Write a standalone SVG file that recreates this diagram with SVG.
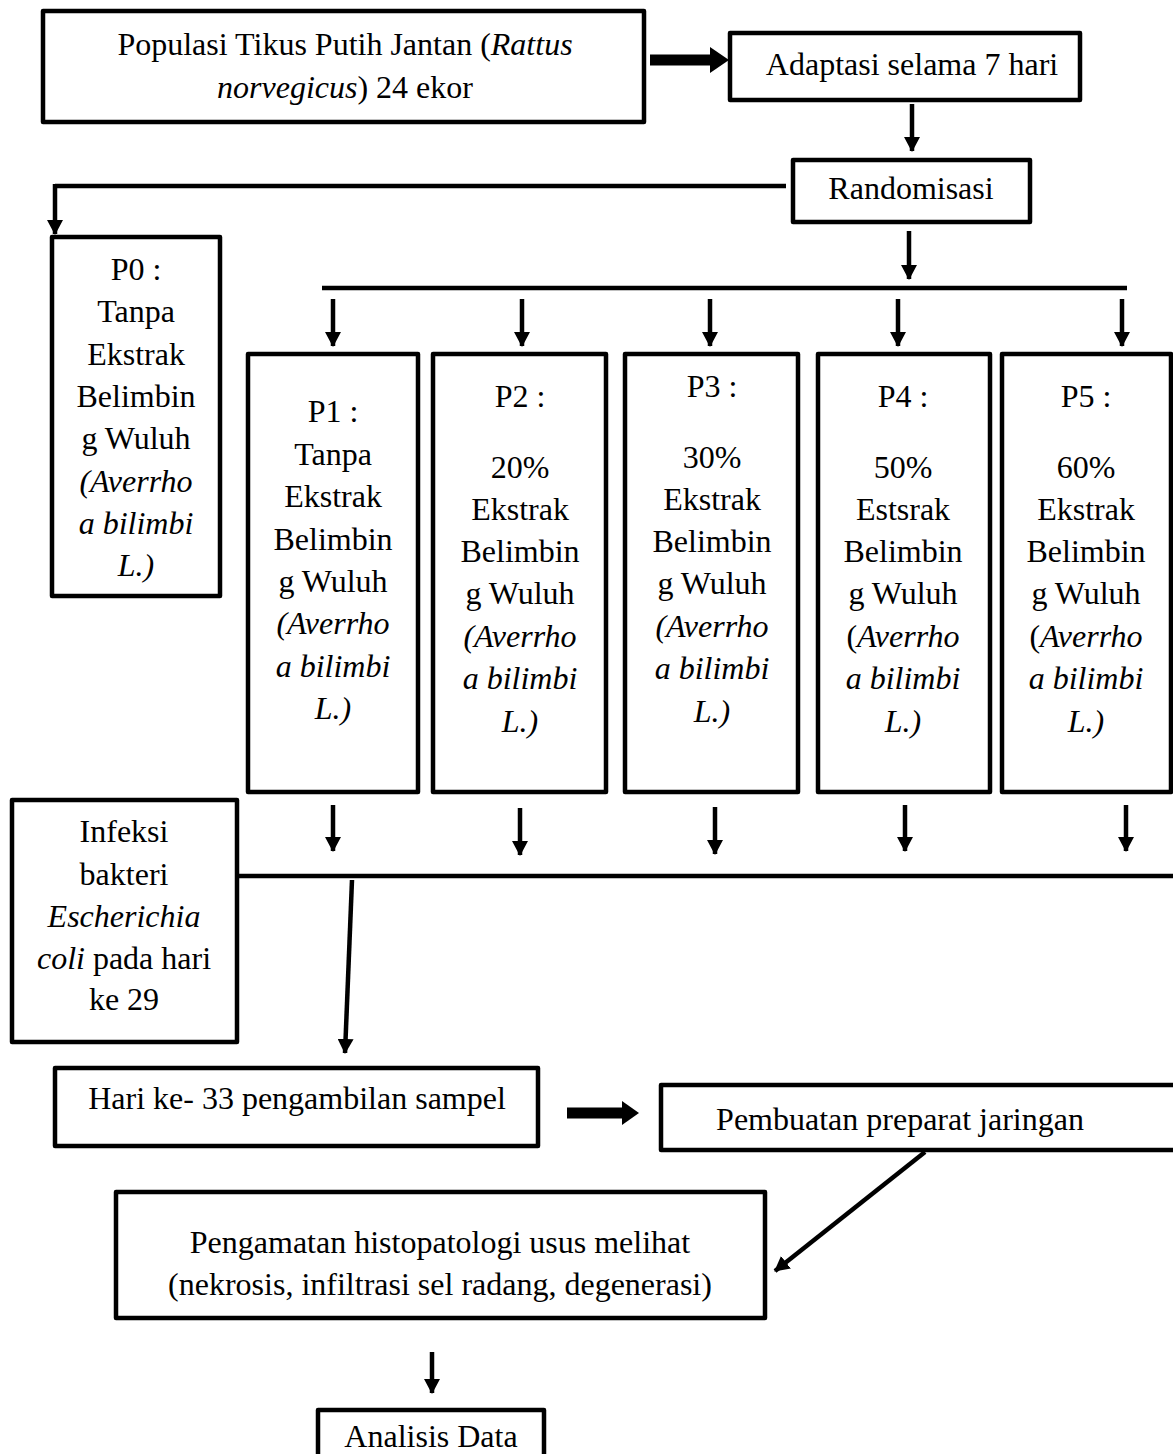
<svg xmlns="http://www.w3.org/2000/svg" width="1173" height="1454" viewBox="0 0 1173 1454">
<style>
.box{fill:#fff;stroke:#000;stroke-width:4.5;stroke-linejoin:round}
.t{font-family:"Liberation Serif","Times New Roman",serif;font-size:32px;fill:#000;text-anchor:middle}
.i{font-style:italic}
.ln{fill:none;stroke:#000;stroke-width:4.5}
.ar{fill:none;stroke:#000;stroke-width:4.5;marker-end:url(#ah)}
</style>
<defs>
<marker id="ah" markerUnits="userSpaceOnUse" markerWidth="16" markerHeight="16" refX="14" refY="8" orient="auto">
<path d="M0,0 L15,8 L0,16 Z" fill="#000"/>
</marker>
</defs>
<rect width="1173" height="1454" fill="#fff"/>

<g id="connectors">
<path d="M650,60 H712" stroke="#000" stroke-width="11" fill="none"/>
<path d="M710,47 L729,60 L710,73 Z" fill="#000"/>
<path class="ar" d="M912,104 V151"/>
<path class="ln" d="M786,186 H55"/>
<path class="ar" d="M55,184 V234"/>
<path class="ar" d="M909,231 V279"/>
<path class="ln" d="M322,288 H1127"/>
<path class="ar" d="M333,299 V346"/>
<path class="ar" d="M522,299 V346"/>
<path class="ar" d="M710,299 V346"/>
<path class="ar" d="M898,299 V346"/>
<path class="ar" d="M1122,299 V346"/>
<path class="ar" d="M333,805 V851"/>
<path class="ar" d="M520,808 V855"/>
<path class="ar" d="M715,807 V854"/>
<path class="ar" d="M905,805 V851"/>
<path class="ar" d="M1126,805 V851"/>
<path class="ln" d="M237,876 H1173"/>
<path class="ar" d="M352,880 L345,1053"/>
<path d="M567,1113 H625" stroke="#000" stroke-width="11" fill="none"/>
<path d="M622,1101 L639,1113 L622,1125 Z" fill="#000"/>
<path class="ar" d="M925,1152 L775,1271"/>
<path class="ar" d="M432,1352 V1393"/>
</g>

<g id="n-populasi">
<rect class="box" x="43" y="11" width="601" height="111"/>
<text class="t" x="345" y="55">Populasi Tikus Putih Jantan (<tspan class="i">Rattus</tspan></text>
<text class="t" x="345" y="98"><tspan class="i">norvegicus</tspan>) 24 ekor</text>
</g>

<g id="n-adaptasi">
<rect class="box" x="730" y="33" width="350" height="67"/>
<text class="t" x="912" y="75">Adaptasi selama 7 hari</text>
</g>

<g id="n-random">
<rect class="box" x="793" y="160" width="237" height="62"/>
<text class="t" x="911" y="199">Randomisasi</text>
</g>

<g id="n-p0">
<rect class="box" x="52" y="237" width="168" height="359"/>
<text class="t" x="136" y="280">P0 :</text>
<text class="t" x="136" y="322">Tanpa</text>
<text class="t" x="136" y="365">Ekstrak</text>
<text class="t" x="136" y="407">Belimbin</text>
<text class="t" x="136" y="449">g Wuluh</text>
<text class="t i" x="136" y="492">(Averrho</text>
<text class="t i" x="136" y="534">a bilimbi</text>
<text class="t i" x="136" y="576">L.)</text>
</g>

<g id="n-p1">
<rect class="box" x="248" y="354" width="170" height="438"/>
<text class="t" x="333" y="422">P1 :</text>
<text class="t" x="333" y="465">Tanpa</text>
<text class="t" x="333" y="507">Ekstrak</text>
<text class="t" x="333" y="550">Belimbin</text>
<text class="t" x="333" y="592">g Wuluh</text>
<text class="t i" x="333" y="634">(Averrho</text>
<text class="t i" x="333" y="677">a bilimbi</text>
<text class="t i" x="333" y="719">L.)</text>
</g>

<g id="n-p2">
<rect class="box" x="433" y="354" width="173" height="438"/>
<text class="t" x="520" y="407">P2 :</text>
<text class="t" x="520" y="478">20%</text>
<text class="t" x="520" y="520">Ekstrak</text>
<text class="t" x="520" y="562">Belimbin</text>
<text class="t" x="520" y="604">g Wuluh</text>
<text class="t i" x="520" y="647">(Averrho</text>
<text class="t i" x="520" y="689">a bilimbi</text>
<text class="t i" x="520" y="732">L.)</text>
</g>

<g id="n-p3">
<rect class="box" x="625" y="354" width="173" height="438"/>
<text class="t" x="712" y="397">P3 :</text>
<text class="t" x="712" y="468">30%</text>
<text class="t" x="712" y="510">Ekstrak</text>
<text class="t" x="712" y="552">Belimbin</text>
<text class="t" x="712" y="594">g Wuluh</text>
<text class="t i" x="712" y="637">(Averrho</text>
<text class="t i" x="712" y="679">a bilimbi</text>
<text class="t i" x="712" y="722">L.)</text>
</g>

<g id="n-p4">
<rect class="box" x="818" y="354" width="172" height="438"/>
<text class="t" x="903" y="407">P4 :</text>
<text class="t" x="903" y="478">50%</text>
<text class="t" x="903" y="520">Estsrak</text>
<text class="t" x="903" y="562">Belimbin</text>
<text class="t" x="903" y="604">g Wuluh</text>
<text class="t" x="903" y="647">(<tspan class="i">Averrho</tspan></text>
<text class="t i" x="903" y="689">a bilimbi</text>
<text class="t i" x="903" y="732">L.)</text>
</g>

<g id="n-p5">
<rect class="box" x="1002" y="354" width="169" height="438"/>
<text class="t" x="1086" y="407">P5 :</text>
<text class="t" x="1086" y="478">60%</text>
<text class="t" x="1086" y="520">Ekstrak</text>
<text class="t" x="1086" y="562">Belimbin</text>
<text class="t" x="1086" y="604">g Wuluh</text>
<text class="t" x="1086" y="647">(<tspan class="i">Averrho</tspan></text>
<text class="t i" x="1086" y="689">a bilimbi</text>
<text class="t i" x="1086" y="732">L.)</text>
</g>

<g id="n-infeksi">
<rect class="box" x="12" y="800" width="225" height="242"/>
<text class="t" x="124" y="842">Infeksi</text>
<text class="t" x="124" y="885">bakteri</text>
<text class="t i" x="124" y="927">Escherichia</text>
<text class="t" x="124" y="969"><tspan class="i">coli</tspan> pada hari</text>
<text class="t" x="124" y="1010">ke 29</text>
</g>

<g id="n-hari">
<rect class="box" x="55" y="1068" width="483" height="78"/>
<text class="t" x="297" y="1109">Hari ke- 33 pengambilan sampel</text>
</g>

<g id="n-pembuatan">
<rect class="box" x="661" y="1085" width="515" height="65"/>
<text class="t" x="900" y="1130">Pembuatan preparat jaringan</text>
</g>

<g id="n-pengamatan">
<rect class="box" x="116" y="1192" width="649" height="126"/>
<text class="t" x="440" y="1253">Pengamatan histopatologi usus melihat</text>
<text class="t" x="440" y="1295">(nekrosis, infiltrasi sel radang, degenerasi)</text>
</g>

<g id="n-analisis">
<rect class="box" x="318" y="1410" width="226" height="60"/>
<text class="t" x="431" y="1447">Analisis Data</text>
</g>
</svg>
